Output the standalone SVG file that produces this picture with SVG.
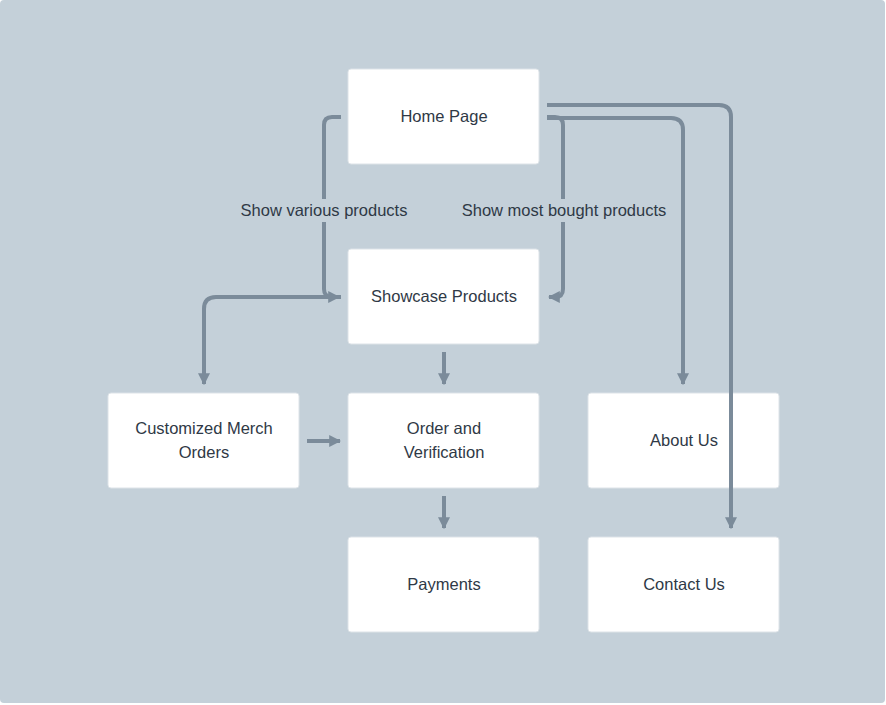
<svg xmlns="http://www.w3.org/2000/svg" width="886" height="705" viewBox="0 0 886 705">
<defs>
<marker id="ah" viewBox="0 0 10 10" refX="9" refY="5" markerWidth="3" markerHeight="3" orient="auto" markerUnits="strokeWidth">
<path d="M0,0 L10,5 L0,10 Z" fill="#7b8b9a"/>
</marker>
<style>
.node rect{fill:#ffffff;stroke:#dde3e8;stroke-width:1}
.node text,.lbl{font-family:"Liberation Sans",Arial,sans-serif;font-size:16.5px;fill:#2f3946;text-anchor:middle}
.c{fill:none;stroke:#7b8b9a;stroke-width:4;stroke-linejoin:round}
.lblbg{fill:#c4d0d9}
</style>
</defs>
<rect x="0" y="0" width="885" height="703" rx="4" fill="#c4d0d9"/>
<g id="home" class="node"><rect x="348" y="69" width="191" height="95" rx="3"/><text x="444" y="122">Home Page</text></g>
<g id="showcase" class="node"><rect x="348" y="249" width="191" height="95" rx="3"/><text x="444" y="302">Showcase Products</text></g>
<g id="custom" class="node"><rect x="108" y="393" width="191" height="95" rx="3"/><text x="204" y="434">Customized Merch</text><text x="204" y="458">Orders</text></g>
<g id="order" class="node"><rect x="348" y="393" width="191" height="95" rx="3"/><text x="444" y="434">Order and</text><text x="444" y="458">Verification</text></g>
<g id="about" class="node"><rect x="588" y="393" width="191" height="95" rx="3"/><text x="684" y="446">About Us</text></g>
<g id="payments" class="node"><rect x="348" y="537" width="191" height="95" rx="3"/><text x="444" y="590">Payments</text></g>
<g id="contact" class="node"><rect x="588" y="537" width="191" height="95" rx="3"/><text x="684" y="590">Contact Us</text></g>
<g id="connectors">
<path class="c" d="M341,117 H332 Q324,117 324,125 V289 Q324,297 332,297 H339" marker-end="url(#ah)"/>
<path class="c" d="M547,117 H555 Q563,117 563,125 V289 Q563,297 555,297 H549" marker-end="url(#ah)"/>
<path class="c" d="M547,118 H671 Q683,118 683,130 V384" marker-end="url(#ah)"/>
<path class="c" d="M547,105 H719 Q731,105 731,117 V528" marker-end="url(#ah)"/>
<path class="c" d="M341,297 H216 Q204,297 204,309 V384" marker-end="url(#ah)"/>
<path class="c" d="M444,352 V384" marker-end="url(#ah)"/>
<path class="c" d="M307,441 H340" marker-end="url(#ah)"/>
<path class="c" d="M444,496 V528" marker-end="url(#ah)"/>
<rect class="lblbg" x="232" y="199" width="184" height="23"/>
<text class="lbl" x="324" y="216">Show various products</text>
<rect class="lblbg" x="452" y="199" width="224" height="23"/>
<text class="lbl" x="564" y="216">Show most bought products</text>
</g>
</svg>
